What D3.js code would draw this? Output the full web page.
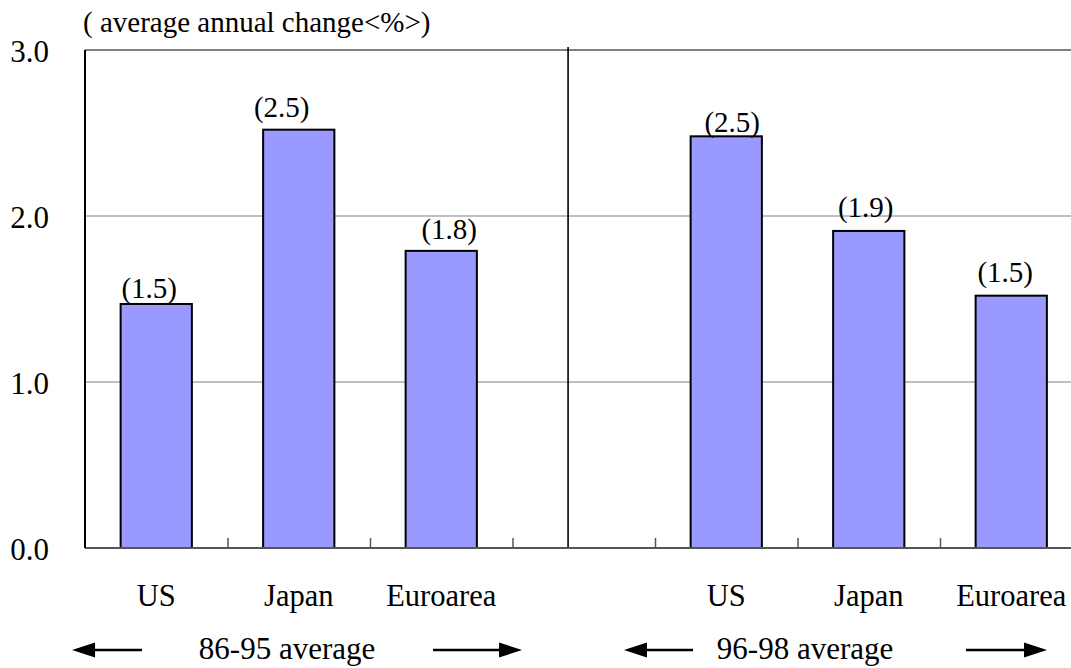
<!DOCTYPE html>
<html>
<head>
<meta charset="utf-8">
<script src="https://cdn.jsdelivr.net/npm/d3@7"></script>
<style>
  html, body { margin: 0; padding: 0; background: #fff; }
  svg { display: block; }
  text { font-family: "Liberation Serif", "Times New Roman", serif; fill: #000; }
</style>
</head>
<body>
<svg id="chart" width="1071" height="668"></svg>
<script>
// Data: average annual change (%) by region over two periods
const categories = ["US", "Japan", "Euroarea"];
const periods = ["86-95 average", "96-98 average"];
const growth8695 = [1.47, 2.52, 1.79];
const growth9698 = [2.48, 1.91, 1.52];
const yTicks = [0, 1, 2, 3];
const yTickLabels = ["0.0", "1.0", "2.0", "3.0"];
const unitLabel = "( average annual change<%>)";

// Layout
const W = 1071, H = 668;
const plotLeft = 85, plotBottom = 548, plotTop = 50;
const step = 142.5;
const slotCount = 7;

const svg = d3.select("#chart");

// Slot keys: three bars, an empty gap slot, three bars
const slotKeys = [
  ...categories.map(c => "a-" + c),
  "gap",
  ...categories.map(c => "b-" + c)
];
const x = d3.scaleBand()
  .domain(slotKeys)
  .range([plotLeft, plotLeft + step * slotCount])
  .paddingInner(0.5)
  .paddingOuter(0.25);
// Continuous slot position scale for boundaries and annotations
const slot = d3.scaleLinear().domain([0, slotCount]).range([plotLeft, plotLeft + step * slotCount]);

const y = d3.scaleLinear().domain([0, 3]).range([plotBottom, plotTop]);

const bars = [
  ...categories.map((c, i) => ({ key: "a-" + c, cat: c, value: growth8695[i] })),
  ...categories.map((c, i) => ({ key: "b-" + c, cat: c, value: growth9698[i] }))
];

// Horizontal gridlines
svg.append("g").selectAll("line")
  .data(yTicks.filter(t => t > 0))
  .join("line")
  .attr("x1", plotLeft).attr("x2", W)
  .attr("y1", d => y(d)).attr("y2", d => y(d))
  .attr("stroke", "#808080")
  .attr("stroke-width", d => d === 3 ? 2.2 : 1.2);

// Period divider
svg.append("line")
  .attr("x1", slot(3.39)).attr("x2", slot(3.39))
  .attr("y1", y(3) - 3).attr("y2", y(0))
  .attr("stroke", "#000").attr("stroke-width", 1.6);

// Bars
svg.append("g").selectAll("rect")
  .data(bars)
  .join("rect")
  .attr("x", d => x(d.key))
  .attr("width", x.bandwidth())
  .attr("y", d => y(d.value))
  .attr("height", d => y(0) - y(d.value))
  .attr("fill", "#9999ff")
  .attr("stroke", "#000")
  .attr("stroke-width", 2);

// Value labels (one decimal, in parentheses)
const labelShift = [[-7, 6], [-17, 13], [8, 12], [6, 4], [-3, 14], [-6, 14]];
svg.append("g").selectAll("text")
  .data(bars)
  .join("text")
  .attr("x", (d, i) => x(d.key) + x.bandwidth() / 2 + labelShift[i][0])
  .attr("y", (d, i) => y(d.value) - labelShift[i][1])
  .attr("text-anchor", "middle")
  .attr("font-size", 29)
  .text(d => "(" + d3.format(".1f")(d.value) + ")");

// Bottom axis with inward ticks at slot boundaries
const xAxis = svg.append("g")
  .attr("transform", `translate(0,${plotBottom})`)
  .call(d3.axisBottom(slot).tickValues([1, 2, 3, 4, 5, 6]).tickSize(-10).tickFormat(""));
xAxis.select(".domain").remove();
xAxis.selectAll(".tick line").attr("stroke", "#555").attr("stroke-width", 1.5);
svg.append("line")
  .attr("x1", plotLeft).attr("x2", W)
  .attr("y1", plotBottom).attr("y2", plotBottom)
  .attr("stroke", "#555").attr("stroke-width", 2.2);

// Left axis line and tick labels
svg.append("line")
  .attr("x1", plotLeft).attr("x2", plotLeft)
  .attr("y1", y(3)).attr("y2", y(0))
  .attr("stroke", "#000").attr("stroke-width", 2);
const yAxis = svg.append("g")
  .attr("transform", `translate(${plotLeft},0)`)
  .call(d3.axisLeft(y).tickValues(yTicks).tickSize(0).tickPadding(36)
    .tickFormat((d, i) => yTickLabels[i]));
yAxis.select(".domain").remove();
yAxis.selectAll("text")
  .attr("font-size", 31)
  .attr("fill", "#000")
  .attr("dy", "0.36em");

// Unit label
svg.append("text")
  .attr("x", 83).attr("y", 32)
  .attr("font-size", 29)
  .text(unitLabel);

// Category labels under each bar
svg.append("g").selectAll("text")
  .data(bars)
  .join("text")
  .attr("x", d => x(d.key) + x.bandwidth() / 2)
  .attr("y", 606)
  .attr("text-anchor", "middle")
  .attr("font-size", 30.5)
  .text(d => d.cat);

// Period annotations with arrows
const periodMarks = [
  { label: periods[0], center: 1.418, arrowL: [-0.091, 0.40], arrowR: [2.442, 3.067] },
  { label: periods[1], center: 5.053, arrowL: [3.782, 4.267], arrowR: [6.182, 6.751] }
];
const arrowY = 650;
const headLen = 23, headHalf = 7.5;
const ann = svg.append("g");
periodMarks.forEach(p => {
  ann.append("text")
    .attr("x", slot(p.center)).attr("y", 659)
    .attr("text-anchor", "middle")
    .attr("font-size", 31)
    .text(p.label);
  // left-pointing arrow
  const lTip = slot(p.arrowL[0]), lTail = slot(p.arrowL[1]);
  ann.append("line")
    .attr("x1", lTip + headLen - 2).attr("x2", lTail)
    .attr("y1", arrowY).attr("y2", arrowY)
    .attr("stroke", "#000").attr("stroke-width", 2.5);
  ann.append("path")
    .attr("d", `M${lTip},${arrowY}L${lTip + headLen},${arrowY - headHalf}L${lTip + headLen},${arrowY + headHalf}Z`)
    .attr("fill", "#000");
  // right-pointing arrow
  const rTail = slot(p.arrowR[0]), rTip = slot(p.arrowR[1]);
  ann.append("line")
    .attr("x1", rTail).attr("x2", rTip - headLen + 2)
    .attr("y1", arrowY).attr("y2", arrowY)
    .attr("stroke", "#000").attr("stroke-width", 2.5);
  ann.append("path")
    .attr("d", `M${rTip},${arrowY}L${rTip - headLen},${arrowY - headHalf}L${rTip - headLen},${arrowY + headHalf}Z`)
    .attr("fill", "#000");
});
</script>
</body>
</html>
